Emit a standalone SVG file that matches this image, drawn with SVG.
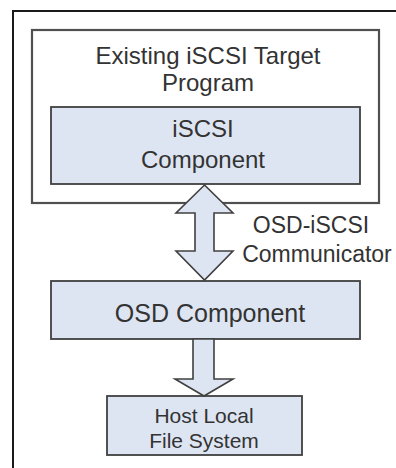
<svg xmlns="http://www.w3.org/2000/svg" width="396" height="468" viewBox="0 0 396 468">
  <style>
    .frame { fill: none; stroke: #1a1a1a; stroke-width: 2; }
    .outer { fill: #ffffff; stroke: #505050; stroke-width: 2.2; }
    .comp { fill: #dee5f2; stroke: #404040; stroke-width: 1.8; }
    .arrow { fill: #dee5f2; stroke: #404040; stroke-width: 1.6; stroke-linejoin: miter; }
    text { font-family: "Liberation Sans", Arial, sans-serif; fill: #333333; text-anchor: middle; }
  </style>
  <rect x="0" y="0" width="396" height="468" fill="#ffffff"/>
  <path class="frame" d="M13,468 V11 H396"/>

  <g id="target-program">
    <rect class="outer" x="32" y="30" width="347" height="173"/>
    <text x="208" y="64" font-size="24">Existing iSCSI Target</text>
    <text x="208" y="91" font-size="24">Program</text>
  </g>

  <g id="iscsi-component">
    <rect class="comp" x="51" y="107" width="309" height="77"/>
    <text x="203" y="137" font-size="24">iSCSI</text>
    <text x="203" y="168" font-size="24">Component</text>
  </g>

  <g id="osd-component">
    <rect class="comp" x="51" y="281" width="309" height="58"/>
    <text x="210" y="322" font-size="25">OSD Component</text>
  </g>

  <g id="host-fs">
    <rect class="comp" x="107" y="396" width="195" height="59"/>
    <text x="204" y="423" font-size="21">Host Local</text>
    <text x="204" y="448" font-size="21">File System</text>
  </g>

  <g id="connectors">
    <path class="arrow" d="M204.5,185 L233,213 L214,213 L214,251 L233,251 L204.5,280 L176,251 L195,251 L195,213 L176,213 Z"/>
    <path class="arrow" d="M193,339 L214,339 L214,379 L233,379 L204,396 L175,379 L193,379 Z"/>
    <text x="311" y="233" font-size="23">OSD-iSCSI</text>
    <text x="317" y="262" font-size="23">Communicator</text>
  </g>
</svg>
